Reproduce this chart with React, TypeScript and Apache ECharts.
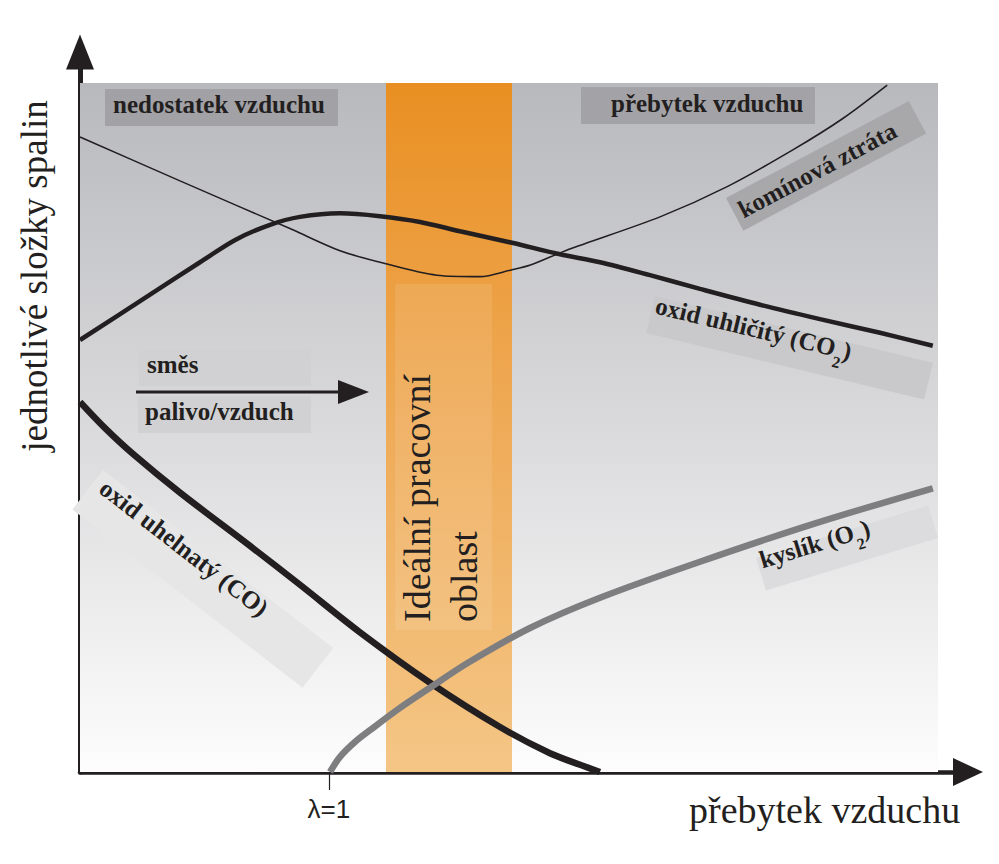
import React, { useEffect, useRef } from 'react';
import * as echarts from 'echarts';

// Curves (x: air excess, y: relative amount)
const flueLoss: [number, number][] = [
  [0, 88.2], [12.5, 82.1], [26.6, 75.3], [32.5, 72.4], [37.5, 70.8], [44.6, 69.0],
  [50.0, 68.8], [53.8, 69.7], [56.3, 70.4], [60.9, 72.5], [72.5, 77.1], [80.9, 81.3],
  [89.1, 86.4], [95.4, 90.8], [100.9, 95.4],
];
const carbonDioxide: [number, number][] = [
  [0, 60.0], [8.75, 66.3], [15.0, 70.8], [19.4, 73.9], [23.75, 76.0], [27.5, 77.1],
  [32.5, 77.6], [37.5, 77.2], [42.5, 76.4], [47.5, 75.1], [54.0, 73.5], [60.0, 71.9],
  [65.0, 70.8], [71.25, 69.0], [77.5, 67.1], [85.0, 64.9], [92.5, 62.9], [100.0, 61.0],
  [106.6, 59.2],
];
const carbonMonoxide: [number, number][] = [
  [0, 51.4], [3.1, 47.8], [6.6, 44.2], [12.5, 38.8], [21.25, 31.4], [27.5, 26.0],
  [35.0, 19.4], [43.75, 12.4], [52.5, 6.25], [58.75, 2.6], [62.5, 1.0], [65.0, 0],
];
const oxygen: [number, number][] = [
  [31.25, 0], [32.5, 2.1], [34.4, 4.2], [36.6, 6.1], [40.0, 8.9], [43.75, 11.7],
  [48.4, 15.1], [56.25, 20.0], [65.0, 24.2], [77.5, 29.2], [92.1, 34.6], [106.6, 39.4],
];

const plotArea = [0, 0, 107.25, 95.7];
const idealBand = [38.25, 54];
const idealInner = [39.4, 19.7, 51.5, 67.8];
const lambdaOne = [31.1];
const lambdaLabel = 'λ=1';

const INK = '#231f20';
const SERIF = '"Liberation Serif", "Times New Roman", serif';

const boldRich = {
  n: { fontFamily: SERIF, fontWeight: 'bold', fontSize: 25, lineHeight: 34, verticalAlign: 'top', fill: INK, color: INK },
  s: { fontFamily: SERIF, fontWeight: 'bold', fontSize: 16, lineHeight: 16, verticalAlign: 'bottom', fill: INK, color: INK },
};

function label(x: number, y: number, rotDeg: number, w: number, h: number, fill: string, text: string, tx: number, ty: number, rich = false) {
  const style: any = {
    text,
    fontFamily: SERIF,
    fontWeight: 'bold',
    fontSize: 25,
    fill: INK,
    align: 'left',
    verticalAlign: 'middle',
    textAlign: 'left',
    textVerticalAlign: 'middle',
  };
  if (rich) style.rich = boldRich;
  return {
    type: 'group',
    x,
    y,
    rotation: (rotDeg * Math.PI) / 180,
    z: 10,
    children: [
      { type: 'rect', z: 10, shape: { x: 0, y: 0, width: w, height: h }, style: { fill } },
      { type: 'text', z: 11, x: tx, y: ty, style },
    ],
  };
}

function plainText(x: number, y: number, text: string, size: number, rotation = 0, align = 'left') {
  return {
    type: 'text',
    z: 12,
    x,
    y,
    rotation,
    style: {
      text,
      fontFamily: SERIF,
      fontSize: size,
      fill: INK,
      align,
      verticalAlign: 'middle',
      textAlign: align,
      textVerticalAlign: 'middle',
    },
  };
}

export default function App() {
  const ref = useRef<HTMLDivElement>(null);

  useEffect(() => {
    if (!ref.current) return;
    const chart = echarts.init(ref.current, null, { renderer: 'svg' });

    const bgGradient = new echarts.graphic.LinearGradient(0, 0, 0, 1, [
      { offset: 0, color: '#b8b9bd' },
      { offset: 0.5, color: '#dadadc' },
      { offset: 1, color: '#fdfdfd' },
    ]);
    const bandGradient = new echarts.graphic.LinearGradient(0, 0, 0, 1, [
      { offset: 0, color: '#e98f22' },
      { offset: 0.5, color: '#efab58' },
      { offset: 1, color: '#f4c686' },
    ]);

    const lineSeries = (name: string, data: [number, number][], width: number, color: string) => ({
      name,
      type: 'line',
      data,
      smooth: 0.3,
      showSymbol: false,
      symbol: 'none',
      z: 5,
      silent: true,
      lineStyle: { width, color, cap: 'butt' },
    });

    const option: any = {
      animation: false,
      backgroundColor: '#ffffff',
      grid: { left: 80, right: 31, top: 52, bottom: 92 },
      xAxis: {
        type: 'value',
        min: 0,
        max: 111,
        splitLine: { show: false },
        axisLine: {
          show: true,
          symbol: ['none', 'triangle'],
          symbolSize: [28, 30],
          lineStyle: { color: INK, width: 4.5 },
        },
        axisTick: { show: true, customValues: lambdaOne, length: 18, lineStyle: { color: INK, width: 1.2 } },
        axisLabel: {
          show: true,
          customValues: lambdaOne,
          formatter: () => lambdaLabel,
          fontFamily: '"Liberation Sans", Arial, sans-serif',
          fontSize: 26,
          lineHeight: 26,
          color: INK,
          margin: 24,
        },
      },
      yAxis: {
        type: 'value',
        min: 0,
        max: 100,
        splitLine: { show: false },
        axisTick: { show: false },
        axisLabel: { show: false },
        axisLine: {
          show: true,
          symbol: ['none', 'triangle'],
          symbolSize: [28, 35],
          lineStyle: { color: INK, width: 5 },
        },
      },
      series: [
        {
          name: 'background',
          type: 'line',
          data: [],
          z: 1,
          silent: true,
          markArea: {
            silent: true,
            label: { show: false },
            itemStyle: { color: bgGradient },
            data: [[{ xAxis: plotArea[0], yAxis: plotArea[1] }, { xAxis: plotArea[2], yAxis: plotArea[3] }]],
          },
        },
        {
          name: 'ideal',
          type: 'line',
          data: [],
          z: 2,
          silent: true,
          markArea: {
            silent: true,
            label: { show: false },
            itemStyle: { color: bandGradient },
            data: [[{ xAxis: idealBand[0], yAxis: plotArea[1] }, { xAxis: idealBand[1], yAxis: plotArea[3] }]],
          },
        },
        {
          name: 'idealInner',
          type: 'line',
          data: [],
          z: 3,
          silent: true,
          markArea: {
            silent: true,
            label: { show: false },
            itemStyle: { color: 'rgba(255,255,255,0.10)' },
            data: [[{ xAxis: idealInner[0], yAxis: idealInner[1] }, { xAxis: idealInner[2], yAxis: idealInner[3] }]],
          },
        },
        lineSeries('komínová ztráta', flueLoss, 1.6, INK),
        lineSeries('oxid uhličitý', carbonDioxide, 4.5, INK),
        lineSeries('oxid uhelnatý', carbonMonoxide, 6.5, INK),
        lineSeries('kyslík', oxygen, 6.5, '#7e7e81'),
      ],
      graphic: {
        elements: [
          label(105, 89, 0, 233, 37, '#a1a1a6', 'nedostatek vzduchu', 8, 15),
          label(581, 87, 0, 234, 37, '#a3a3a7', 'přebytek vzduchu', 30, 16),
          label(726, 198, 28, 207, 37, '#a8a8ab', 'komínová ztráta', 6, 18),
          label(655, 296, -13.5, 286, 38, '#c9c9cc', '{n|oxid uhličitý (CO}{s|2}{n|)}', 3, 13, true),
          label(139, 349, 0, 172, 37, '#d1d1d3', 'směs', 8, 15),
          label(138, 396, 0, 173, 37, '#d1d1d3', 'palivo/vzduch', 7, 15),
          label(103, 470, -37.7, 291, 50, '#e6e6e7', 'oxid uhelnatý (CO)', 9, 12),
          label(756, 558, 17, 180, 34, '#dcdcde', '{n|kyslík (O}{s|2}{n|)}', 3, 8, true),
          {
            type: 'line',
            z: 12,
            shape: { x1: 136, y1: 392, x2: 345, y2: 392 },
            style: { stroke: INK, lineWidth: 3 },
          },
          {
            type: 'polygon',
            z: 12,
            shape: { points: [[338, 380], [369, 392], [338, 404]] },
            style: { fill: INK },
          },
          plainText(417, 622, 'Ideální pracovní', 38, Math.PI / 2, 'left'),
          plainText(464, 622, 'oblast', 38, Math.PI / 2, 'left'),
          plainText(34, 276, 'jednotlivé složky spalin', 37, Math.PI / 2, 'center'),
          plainText(689, 810, 'přebytek vzduchu', 38, 0, 'left'),
        ],
      },
    };

    chart.setOption(option);
    return () => chart.dispose();
  }, []);

  return (
    <div
      ref={ref}
      style={{ position: 'fixed', left: 0, top: 0, width: 999, height: 864 }}
    />
  );
}
